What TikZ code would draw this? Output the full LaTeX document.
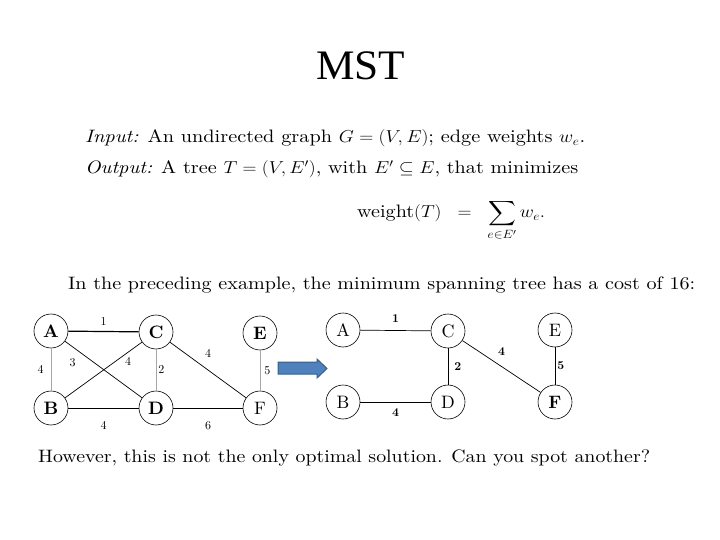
\documentclass[tikz,border=0pt]{standalone}
\usepackage{fontspec}
\usepackage{exscale}
\setmainfont{lmroman10}[Extension=.otf, UprightFont=*-regular, ItalicFont=*-italic, BoldFont=*-bold, BoldItalicFont=*-bolditalic]
\newfontfamily\titlefont{Liberation Serif}
\usetikzlibrary{positioning}
\definecolor{arrowblue}{RGB}{79,129,189}
\definecolor{arrowedge}{RGB}{56,93,138}
% stretch a line of text sideways to a given width
\newcommand{\widetext}[2]{\resizebox{#1}{\height}{#2}}

\tikzset{
    vertex/.style={draw, circle, line width=0.6pt, minimum size=34pt, inner sep=0pt, font=\fontsize{18}{18}\selectfont},
    bvertex/.style={vertex, font=\fontsize{18}{18}\selectfont\bfseries},
    txt/.style={anchor=base west, inner sep=0pt, font=\fontsize{18}{22}\selectfont},
    wt/.style={inner sep=2pt, font=\fontsize{12}{12}\selectfont},
    bwt/.style={wt, font=\fontsize{12}{12}\selectfont\bfseries},
    plain/.style={draw, line width=0.7pt},
    heavy/.style={draw, line width=1.2pt},
    faint/.style={draw, line width=0.7pt, black!35},
}

\begin{document}
\begin{tikzpicture}[x=1pt, y=-1pt]
    \useasboundingbox (0,0) rectangle (720,540);

    % title and problem statement
    \node[font=\titlefont\fontsize{42}{42}\selectfont, anchor=base west, inner sep=0pt] (title) at (316,80) {\widetext{89pt}{MST}};
    \node[txt] (input) at (85,143) {\widetext{500pt}{\textit{Input:} An undirected graph $G=(V,E)$; edge weights $w_e$.}};
    \node[txt] (output) at (85,174) {\widetext{493pt}{\textit{Output:} A tree $T=(V,E')$, with $E'\subseteq E$, that minimizes}};
    \node[txt] (weight) at (357,218) {\widetext{188pt}{weight$(T)\;\;=\;\;\displaystyle\sum_{e\in E'} w_e.$}};
    \node[txt] (claim) at (68,289) {\widetext{627pt}{In the preceding example, the minimum spanning tree has a cost of 16:}};

    % original graph
    \node[bvertex] (A1) at (51,331) {A};
    \node[bvertex] (C1) at (156,332) {C};
    \node[bvertex] (E1) at (260,333) {E};
    \node[bvertex] (B1) at (51,408) {B};
    \node[bvertex] (D1) at (156,408) {D};
    \node[vertex] (F1) at (260,408) {F};
    \draw[heavy] (A1) -- node[wt, above=3pt] {1} (C1);
    \draw[faint] (A1) -- node[wt, left=5pt, black] {4} (B1);
    \draw[plain] (A1) -- node[wt, pos=0.1, below=9pt] {3} (D1);
    \draw[plain] (B1) -- node[wt, pos=0.82, below=3pt] {4} (C1);
    \draw[faint] (C1) -- node[wt, right=0pt, black] {2} (D1);
    \draw[plain] (C1) -- node[wt, above=10pt] {4} (F1);
    \draw[faint] (E1) -- node[wt, right=2pt, black] {5} (F1);
    \draw[plain] (B1) -- node[wt, below=11pt] {4} (D1);
    \draw[plain] (D1) -- node[wt, below=11pt] {6} (F1);

    % block arrow
    \draw[arrowedge, fill=arrowblue, line width=1pt]
        (278,362) -- (317,362) -- (317,359) -- (327,368.5) -- (317,378) -- (317,374) -- (278,374) -- cycle;

    % minimum spanning tree
    \node[vertex] (A2) at (343,330) {A};
    \node[vertex] (C2) at (448,331) {C};
    \node[vertex] (E2) at (555,330) {E};
    \node[vertex] (B2) at (343,402) {B};
    \node[vertex] (D2) at (448,402) {D};
    \node[bvertex] (F2) at (555,402) {F};
    \draw[plain] (A2) -- node[bwt, above=6pt] {1} (C2);
    \draw[plain] (C2) -- node[bwt, right=4pt] {2} (D2);
    \draw[plain] (C2) -- node[bwt, above=9pt] {4} (F2);
    \draw[plain] (E2) -- node[bwt, right=0pt] {5} (F2);
    \draw[plain] (B2) -- node[bwt, below=4pt] {4} (D2);

    \node[txt] (question) at (38,462) {\widetext{612pt}{However, this is not the only optimal solution. Can you spot another?}};
\end{tikzpicture}
\end{document}
